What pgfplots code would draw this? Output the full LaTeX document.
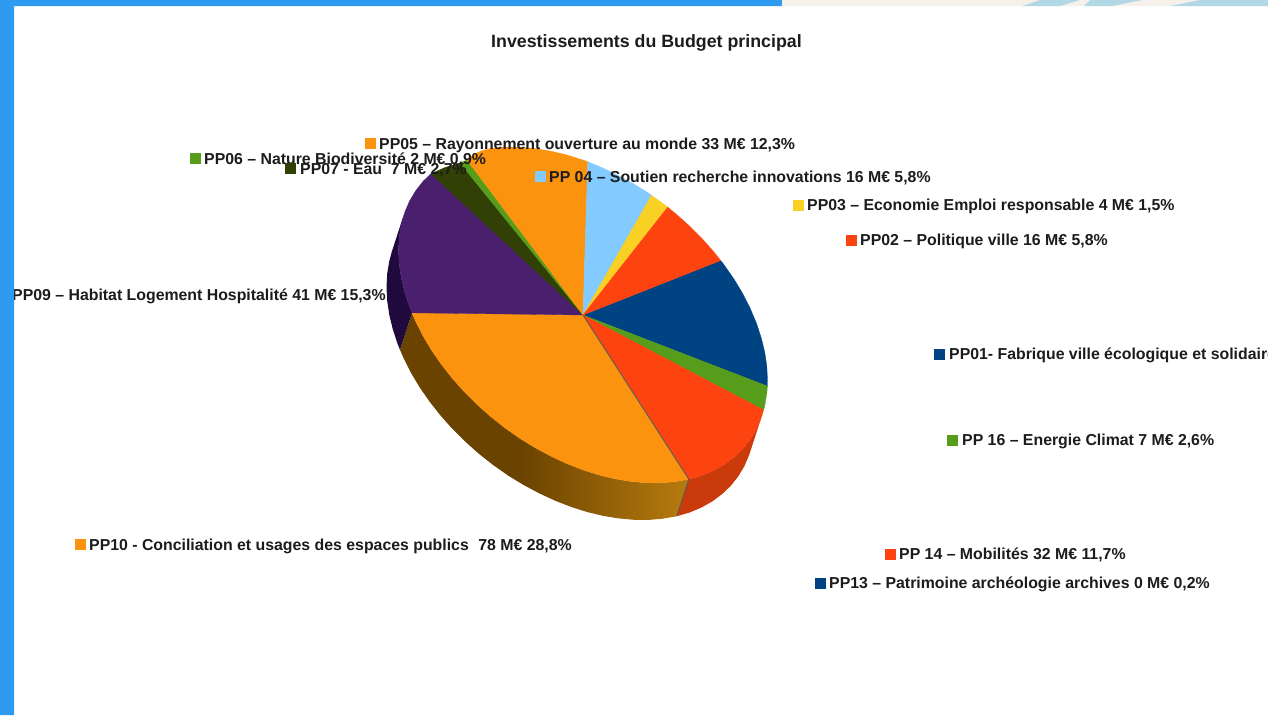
\documentclass[border=0pt]{standalone}
\usepackage{pgfplots}
\pgfplotsset{compat=1.18}
\usepackage{fontspec}
\setmainfont{Liberation Sans}

\definecolor{ppblue}{HTML}{004383}
\definecolor{ppred}{HTML}{FD4310}
\definecolor{ppyellow}{HTML}{F9D024}
\definecolor{ppgreen}{HTML}{579D1C}
\definecolor{ppsky}{HTML}{83CAFF}
\definecolor{ppdark}{HTML}{314004}
\definecolor{pppurple}{HTML}{4A1F6D}
\definecolor{pporange}{HTML}{FB930E}
\definecolor{sidedark}{HTML}{6B4300}
\definecolor{sidelight}{HTML}{B87C0E}
\definecolor{sidered}{HTML}{CB3A0B}
\definecolor{sidepurple}{HTML}{20093C}
\definecolor{barblue}{HTML}{2F9BF0}
\definecolor{beige}{HTML}{F5F1EA}
\definecolor{wave}{HTML}{B2D8E6}
\definecolor{txt}{HTML}{1C1C1C}

% flat brown up to x=525 or so, then lighter towards the seam
\pgfdeclarehorizontalshading{sideshade}{100bp}{color(0bp)=(sidedark); color(46bp)=(sidedark); color(75bp)=(sidelight); color(100bp)=(sidelight)}

\newcommand{\lab}[3]{\node[anchor=base west,inner sep=0pt,text=txt,font=\fontsize{15.85}{18}\selectfont\bfseries] at (axis cs:#1,#2) {#3};}

\begin{document}
\begin{tikzpicture}
\begin{axis}[
    scale only axis,
    width=1268pt,
    height=715pt,
    xmin=0, xmax=1268,
    ymin=0, ymax=715,
    y dir=reverse,
    hide axis,
]
% page
\addplot[fill=white,draw=none] coordinates {(0,0)(1268,0)(1268,715)(0,715)(0,0)};

% sides
\addplot[draw=none,shading=sideshade,shading angle=0] coordinates {
(688.8,479.2)(675.3,481.6)(661,482.9)(646.1,482.8)(630.7,481.4)(615,478.8)(599.1,475)(583,469.9)
(566.9,463.6)(551,456.2)(535.3,447.8)(519.9,438.4)(505,427.9)(490.7,416.6)(477.2,404.6)(464.4,391.9)
(452.5,378.5)(441.7,364.8)(431.9,350.7)(423.2,336.2)(415.8,321.6)(412,312.8)
(400,349.8)(403.8,358.6)(411.2,373.2)(419.9,387.7)(429.7,401.8)(440.5,415.5)(452.4,428.9)(465.2,441.6)
(478.7,453.6)(493,464.9)(507.9,475.4)(523.3,484.8)(539,493.2)(554.9,500.6)(571,506.9)(587.1,512)
(603,515.8)(618.7,518.4)(634.1,519.8)(649,519.9)(663.3,518.6)(676.8,516.2)(688.8,479.2)};
\addplot[fill=sidered,draw=none] coordinates {
(761.2,417.9)(756.4,429.1)(750.2,439.4)(742.8,448.8)(734.1,457.1)(724.3,464.4)(713.5,470.5)(701.6,475.5)(688.8,479.2)
(676.8,516.2)(689.6,512.5)(701.5,507.5)(712.3,501.4)(722.1,494.1)(730.8,485.8)(738.2,476.4)(744.4,466.1)(749.2,454.9)(761.2,417.9)};
\addplot[fill=sidepurple,draw=none] coordinates {
(412,312.8)(409.6,306.9)(404.8,292.3)(401.3,277.9)(399.2,263.8)(398.5,250)(399.2,236.7)(403.7,215.1)
(391.7,252.1)(389.3,261.1)(387.2,273.7)(386.5,287)(387.2,300.8)(389.3,314.9)(392.8,329.3)(397.6,343.9)(400,349.8)(412,312.8)};

% top face
\addplot[fill=ppblue,draw=ppblue,line width=0.3pt] coordinates {
(583,315)(720.7,260.5)(724.3,265.2)(734.1,279.3)(742.8,293.8)(750.2,308.4)(756.4,323.1)(761.2,337.7)
(764.7,352.1)(766.8,366.3)(767.5,380)(767.4,386.1)(583,315)};
\addplot[fill=ppgreen,draw=ppgreen,line width=0.3pt] coordinates {
(583,315)(767.4,386.1)(766.8,393.3)(764.7,405.9)(763.6,410)(583,315)};
\addplot[fill=ppred,draw=ppred,line width=0.3pt] coordinates {
(583,315)(763.6,410)(761.2,417.9)(756.4,429.1)(750.2,439.4)(742.8,448.8)(734.1,457.1)(724.3,464.4)
(713.5,470.5)(701.6,475.5)(688.8,479.2)(583,315)};
\addplot[fill=pporange,draw=pporange,line width=0.3pt] coordinates {
(583,315)(688.8,479.2)(675.3,481.6)(661,482.9)(646.1,482.8)(630.7,481.4)(615,478.8)(599.1,475)(583,469.9)
(566.9,463.6)(551,456.2)(535.3,447.8)(519.9,438.4)(505,427.9)(490.7,416.6)(477.2,404.6)(464.4,391.9)
(452.5,378.5)(441.7,364.8)(431.9,350.7)(423.2,336.2)(415.8,321.6)(412,312.8)(583,315)};
\addplot[fill=pppurple,draw=pppurple,line width=0.3pt] coordinates {
(583,315)(412,312.8)(409.6,306.9)(404.8,292.3)(401.3,277.9)(399.2,263.8)(398.5,250)(399.2,236.7)(401.3,224.1)
(404.8,212.1)(409.6,200.9)(415.8,190.6)(423.2,181.2)(431,173.7)(583,315)};
\addplot[fill=ppdark,draw=ppdark,line width=0.3pt] coordinates {
(583,315)(431,173.7)(445,167.5)(460,163)(583,315)};
\addplot[fill=ppgreen,draw=ppgreen,line width=0.3pt] coordinates {
(583,315)(460,163)(467,160)(583,315)};
\addplot[fill=pporange,draw=pporange,line width=0.3pt] coordinates {
(583,315)(467,160)(473,155)(481,151)(490.7,148.4)(505,147.1)(519.9,147.2)(535.3,148.6)(551,151.2)
(566.9,155)(583,160.1)(587.8,161.8)(583,315)};
\addplot[fill=ppsky,draw=ppsky,line width=0.3pt] coordinates {
(583,315)(587.8,161.8)(599.1,166.4)(615,173.8)(630.7,182.2)(646.1,191.6)(651.5,195.3)(583,315)};
\addplot[fill=ppyellow,draw=ppyellow,line width=0.3pt] coordinates {
(583,315)(651.5,195.3)(661,202.1)(667.7,207.2)(583,315)};
\addplot[fill=ppred,draw=ppred,line width=0.3pt] coordinates {
(583,315)(667.7,207.2)(675.3,213.4)(688.8,225.4)(701.6,238.1)(713.5,251.5)(720.7,260.5)(583,315)};
% thin seam between PP10 and PP14
\addplot[draw=black!65,line width=0.9pt] coordinates {(583,315)(688.8,479.2)(676.8,516.2)};

% legend keys
\addplot[only marks,mark=square*,mark size=5pt,color=pporange] coordinates {(370,143)(80,544)};
\addplot[only marks,mark=square*,mark size=5pt,color=ppgreen] coordinates {(195,158)(952,440)};
\addplot[only marks,mark=square*,mark size=5pt,color=ppdark] coordinates {(290,168)};
\addplot[only marks,mark=square*,mark size=5pt,color=ppsky] coordinates {(540,176)};
\addplot[only marks,mark=square*,mark size=5pt,color=ppyellow] coordinates {(798,205)};
\addplot[only marks,mark=square*,mark size=5pt,color=ppred] coordinates {(851,240)(890,554)};
\addplot[only marks,mark=square*,mark size=5pt,color=ppblue] coordinates {(939,354)(820,583)};

% labels
\node[anchor=base,inner sep=0pt,text=txt,font=\fontsize{17.8}{20}\selectfont\bfseries] at (axis cs:646.5,47) {Investissements du Budget principal};
\lab{379}{149}{PP05 – Rayonnement ouverture au monde 33 M€ 12,3\%}
\lab{204}{164}{PP06 – Nature Biodiversité 2 M€ 0,9\%}
\lab{300}{174}{PP07 - Eau\ \ 7 M€ 2,7\%}
\lab{549}{182}{PP 04 – Soutien recherche innovations 16 M€ 5,8\%}
\lab{807}{210}{PP03 – Economie Emploi responsable 4 M€ 1,5\%}
\lab{860}{245}{PP02 – Politique ville 16 M€ 5,8\%}
\lab{12}{300}{PP09 – Habitat Logement Hospitalité 41 M€ 15,3\%}
\lab{949}{359}{PP01- Fabrique ville écologique et solidaire}
\lab{962}{445}{PP 16 – Energie Climat 7 M€ 2,6\%}
\lab{89}{550}{PP10 - Conciliation et usages des espaces publics\hspace{9.5pt}78 M€ 28,8\%}
\lab{899}{559}{PP 14 – Mobilités 32 M€ 11,7\%}
\lab{829}{588}{PP13 – Patrimoine archéologie archives 0 M€ 0,2\%}

% slide frame
\addplot[fill=barblue,draw=none] coordinates {(0,0)(782,0)(782,6)(14,6)(14,715)(0,715)(0,0)};
\addplot[fill=beige,draw=none] coordinates {(782,0)(1268,0)(1268,6)(782,6)(782,0)};
\addplot[fill=wave,draw=none] coordinates {(1040,0)(1080,0)(1060,6)(1022,6)(1040,0)};
\addplot[fill=wave,draw=none] coordinates {(1090,0)(1142,0)(1112,6)(1084,6)(1090,0)};
\addplot[fill=wave,draw=none] coordinates {(1200,0)(1268,0)(1268,6)(1170,6)(1200,0)};
\end{axis}
\end{tikzpicture}
\end{document}
